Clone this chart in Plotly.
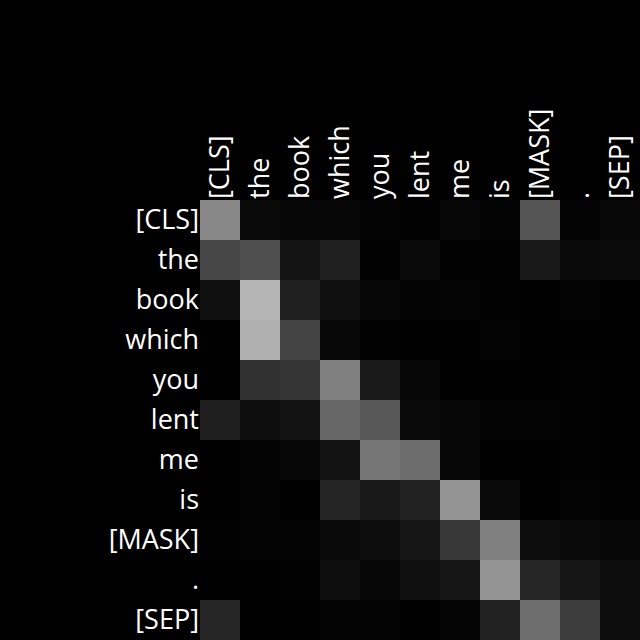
import plotly.graph_objects as go

tokens = ["[CLS]", "the", "book", "which", "you", "lent", "me", "is", "[MASK]", ".", "[SEP]"]

# attention weights (rows = query token, cols = key token), read as gray level / 255
row_cls   = [0.53, 0.04, 0.024, 0.028, 0.012, 0.008, 0.024, 0.012, 0.333, 0.012, 0.03]
row_the   = [0.28, 0.31, 0.078, 0.125, 0.008, 0.04, 0.008, 0.008, 0.094, 0.04, 0.043]
row_book  = [0.063, 0.705, 0.125, 0.063, 0.024, 0.016, 0.02, 0.008, 0.004, 0.012, 0.004]
row_which = [0.0, 0.69, 0.267, 0.03, 0.008, 0.004, 0.004, 0.012, 0.0, 0.0, 0.0]
row_you   = [0.0, 0.188, 0.208, 0.50, 0.10, 0.024, 0.004, 0.004, 0.004, 0.008, 0.0]
row_lent  = [0.118, 0.055, 0.07, 0.40, 0.34, 0.035, 0.028, 0.012, 0.014, 0.008, 0.004]
row_me    = [0.0, 0.012, 0.024, 0.075, 0.46, 0.425, 0.024, 0.004, 0.0, 0.008, 0.004]
row_is    = [0.0, 0.016, 0.0, 0.145, 0.094, 0.13, 0.58, 0.04, 0.0, 0.016, 0.008]
row_mask  = [0.008, 0.012, 0.016, 0.04, 0.05, 0.086, 0.22, 0.50, 0.05, 0.04, 0.024]
row_dot   = [0.0, 0.004, 0.008, 0.055, 0.024, 0.063, 0.082, 0.58, 0.15, 0.086, 0.047]
row_sep   = [0.15, 0.004, 0.004, 0.016, 0.012, 0.004, 0.02, 0.133, 0.43, 0.24, 0.047]

z = [row_cls, row_the, row_book, row_which, row_you, row_lent, row_me,
     row_is, row_mask, row_dot, row_sep]

fig = go.Figure(go.Heatmap(
    z=z, x=tokens, y=tokens,
    colorscale=[[0, "rgb(0,0,0)"], [1, "rgb(255,255,255)"]],
    zmin=0, zmax=1, showscale=False, xgap=0, ygap=0,
))

fig.update_layout(
    width=640, height=640,
    margin=dict(l=200, r=0, t=200, b=0),
    paper_bgcolor="black", plot_bgcolor="black",
    font=dict(family="Open Sans", size=27, color="white"),
)
fig.update_xaxes(side="top", tickangle=-90, showgrid=False, zeroline=False,
                 ticks="", showline=False, ticklabelstandoff=0)
fig.update_yaxes(autorange="reversed", showgrid=False, zeroline=False,
                 ticks="", showline=False, ticklabelstandoff=0)

fig.write_html("out.html")
